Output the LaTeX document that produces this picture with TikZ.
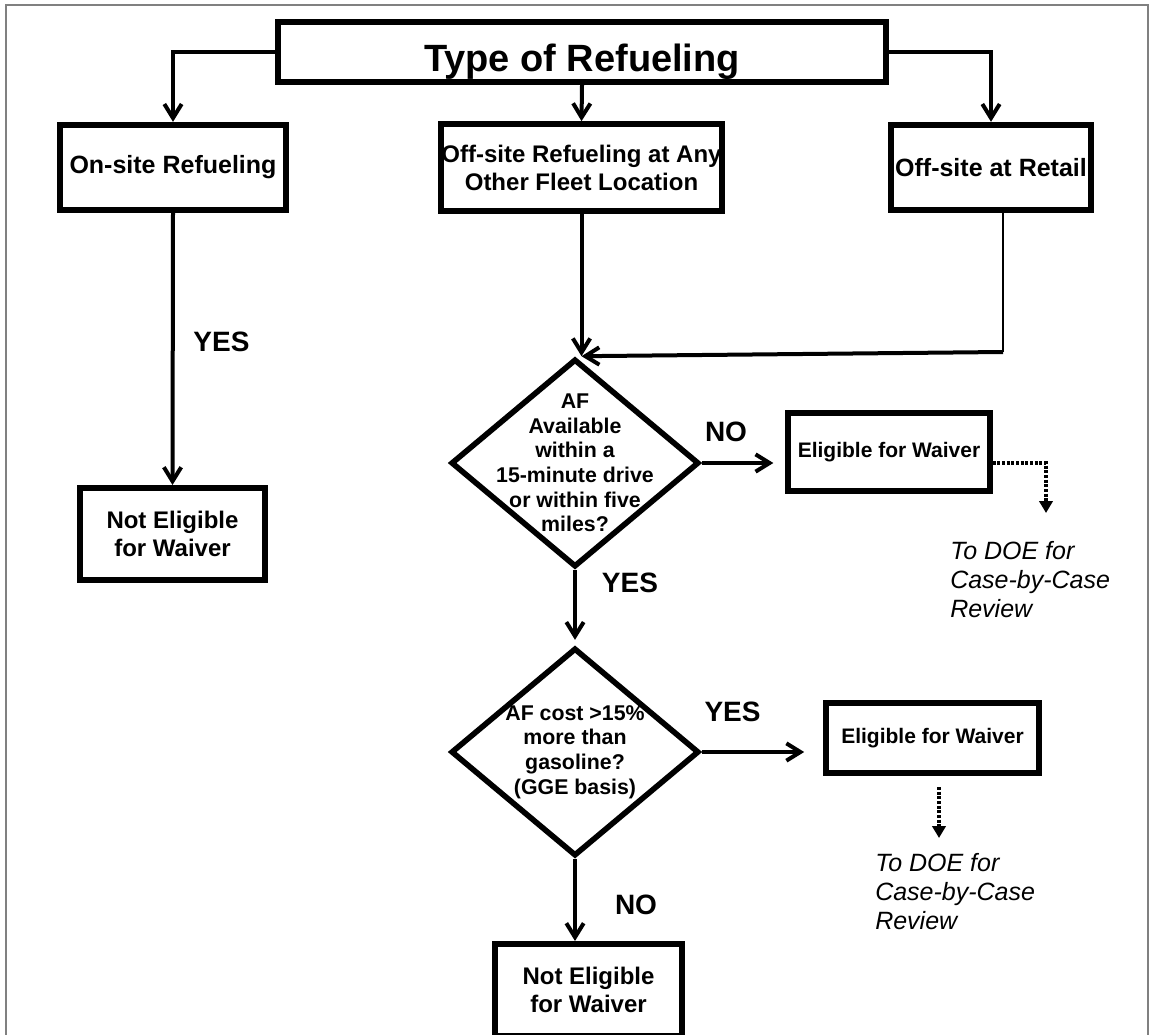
\documentclass[tikz,border=0pt]{standalone}
\usepackage{fontspec}
\setmainfont{Liberation Sans}
\usetikzlibrary{shapes.geometric,arrows.meta}

\begin{document}
\begin{tikzpicture}[x=0.75pt,y=-0.75pt,
    box/.style = {draw, rectangle, line width=4.5pt, inner sep=0pt, align=center, font=\bfseries\fontsize{18.75}{21.6}\selectfont},
    decision/.style = {draw, diamond, line width=4.2pt, inner sep=0pt, minimum width=186pt, minimum height=156pt},
    dtext/.style = {align=center, inner sep=0pt, font=\bfseries\fontsize{16}{18.5}\selectfont},
    conn/.style = {line width=3pt, -{Straight Barb[length=10.5pt,width=13pt]}},
    dots/.style = {line width=3pt, dash pattern=on 2.2pt off 1.3pt, -{Triangle[length=9pt,width=10pt]}},
    answer/.style = {inner sep=0pt, font=\bfseries\fontsize{21}{24}\selectfont},
    note/.style = {align=left, inner sep=0pt, font=\itshape\fontsize{18.75}{21.75}\selectfont}]
        \useasboundingbox (0,0) rectangle (1151,1034);
        \draw[gray, line width=0.8pt] (6,1040) -- (6,5) -- (1148,5) -- (1148,1040);

        \node[box, minimum width=456pt, minimum height=45pt, text height=28.6pt, text depth=0pt,
              font=\bfseries\fontsize{28.5}{32}\selectfont] (title) at (582,52) {Type of Refueling};
        \node[box, minimum width=169pt, minimum height=64pt] (onsite) at (173,167.5) {On-site Refueling};
        \node[box, minimum width=209pt, minimum height=65pt, font=\bfseries\fontsize{18}{21}\selectfont] (offany) at (581.5,167.5) {Off-site Refueling at Any\\Other Fleet Location};
        \node[box, minimum width=150pt, minimum height=64pt] (retail) at (991,167.5) {Off-site at Retail};
        \node[box, minimum width=139pt, minimum height=69pt, font=\bfseries\fontsize{18}{21}\selectfont] (notel1) at (172.5,534) {Not Eligible\\for Waiver};
        \node[decision, label={[dtext]center:{AF\\Available\\within a\\15-minute drive\\or within five\\miles?}}] (d1) at (575,463) {};
        \node[box, minimum width=151pt, minimum height=58pt, font=\bfseries\fontsize{15.75}{18}\selectfont] (elig1) at (889,452) {Eligible for Waiver};
        \node[decision, label={[dtext]center:{AF cost >15\%\\more than\\gasoline?\\(GGE basis)}}] (d2) at (575,752) {};
        \node[box, minimum width=160pt, minimum height=52.5pt, font=\bfseries\fontsize{15.75}{18}\selectfont] (elig2) at (932.5,738) {Eligible for Waiver};
        \node[box, minimum width=140pt, minimum height=69pt, font=\bfseries\fontsize{18}{21}\selectfont] (notel2) at (588.5,990) {Not Eligible\\for Waiver};

        \node[answer] (yes0) at (221.5,342) {YES};
        \node[answer] (no1) at (726,432) {NO};
        \node[answer] (yes1) at (630,583) {YES};
        \node[answer] (yes2) at (732.5,712) {YES};
        \node[answer] (no2) at (636,905) {NO};

        \node[note, anchor=north west] (doe1) at (950,541) {To DOE for\\Case-by-Case\\Review};
        \node[note, anchor=north west] (doe2) at (875,853) {To DOE for\\Case-by-Case\\Review};

        \coordinate (bend) at (1003,352);
        \coordinate (tip1) at (1046,513);
        \coordinate (top2) at (939,787);
        \coordinate (tip2) at (939,838);

        \draw[conn] (title.west) -| (onsite.north);
        \draw[conn] (title.south) -- (offany.north);
        \draw[conn] (title.east) -| (retail.north);
        \draw[conn] (onsite.south) -- (notel1.north);
        \draw[conn] (offany.south) -- (offany.south |- d1.north);
        \draw[line width=0.8pt] ([xshift=9pt]retail.south) -- (bend);
        \draw[conn] (bend) -- (d1.north -| offany.south);
        \draw[conn, shorten >=9pt] (d1.east) -- (d1.east -| elig1.west);
        \draw[conn, shorten >=4pt] (d1.south) -- (d2.north);
        \draw[conn, shorten >=14pt] (d2.east) -- (d2.east -| elig2.west);
        \draw[conn] (d2.south) -- (d2.south |- notel2.north);
        \draw[dots] (elig1.east) ++(0,11) -| (tip1);
        \draw[dots] (top2) -- (tip2);
\end{tikzpicture}
\end{document}
